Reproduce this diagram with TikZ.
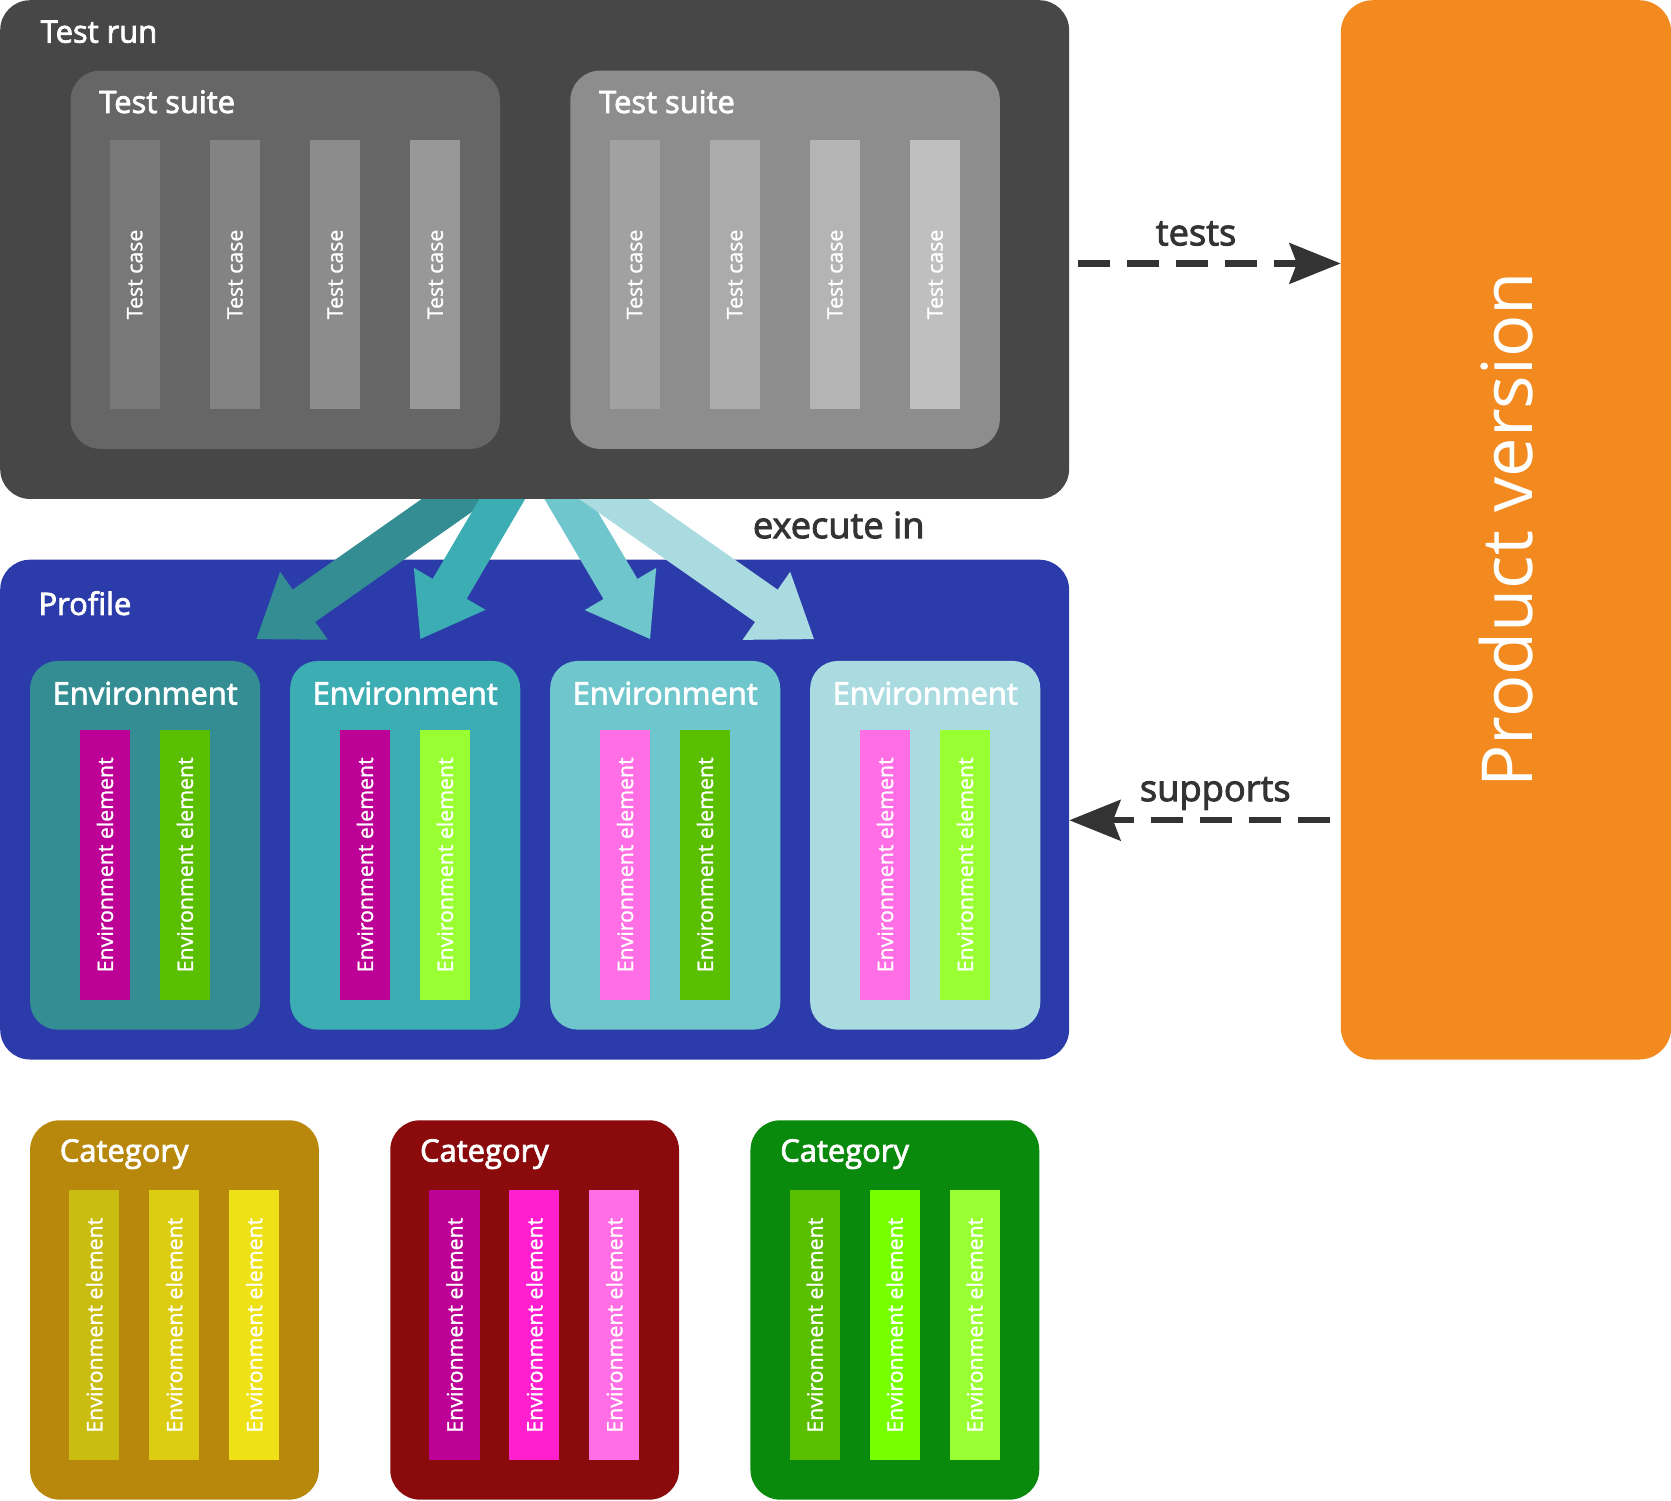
\documentclass[tikz,border=0pt]{standalone}
\usepackage{fontspec}
\setmainfont{Open Sans}
\newfontfamily\boxfam{Open Sans}[FakeBold=2.5]
\newfontfamily\stripfam{Open Sans}[FakeBold=1.2]
\usetikzlibrary{arrows.meta,positioning,calc}

\definecolor{runc}{HTML}{474747}
\definecolor{suitea}{HTML}{666666}
\definecolor{suiteb}{HTML}{8D8D8D}
\definecolor{casea}{HTML}{787878}
\definecolor{caseb}{HTML}{838383}
\definecolor{casec}{HTML}{8C8C8C}
\definecolor{cased}{HTML}{989898}
\definecolor{casee}{HTML}{A1A1A1}
\definecolor{casef}{HTML}{ABABAB}
\definecolor{caseg}{HTML}{B4B4B4}
\definecolor{caseh}{HTML}{BFBFBF}
\definecolor{profc}{HTML}{2B3CAA}
\definecolor{enva}{HTML}{338D93}
\definecolor{envb}{HTML}{3DADB4}
\definecolor{envc}{HTML}{6FC7CD}
\definecolor{envd}{HTML}{A9DBE0}
\definecolor{mag}{HTML}{BD0096}
\definecolor{hot}{HTML}{FF1FCF}
\definecolor{pink}{HTML}{FF6EE4}
\definecolor{grn}{HTML}{5ABF00}
\definecolor{brt}{HTML}{77FF00}
\definecolor{lime}{HTML}{99FF33}
\definecolor{yela}{HTML}{C9BD11}
\definecolor{yelb}{HTML}{DDCD12}
\definecolor{yelc}{HTML}{EEE217}
\definecolor{cata}{HTML}{B8880C}
\definecolor{catb}{HTML}{8B0A0C}
\definecolor{catc}{HTML}{0A8A0C}
\definecolor{pvc}{HTML}{F28A20}
\definecolor{darkc}{HTML}{333333}

\pgfdeclarelayer{under}
\pgfsetlayers{under,main}

\begin{document}
\begin{tikzpicture}[x=1pt,y=-1pt,
  box/.style 2 args={draw=none,rounded corners=28pt,inner sep=0pt,anchor=north west,
    minimum width=#1pt,minimum height=#2pt},
  strip/.style={rotate=90,inner sep=0pt,minimum width=253pt,minimum height=47pt,
    text=white,font=\stripfam\fontsize{20}{20}\selectfont},
  head/.style={text=white,inner sep=0pt,anchor=base west,font=\boxfam\fontsize{29}{30}\selectfont},
  linklbl/.style={text=darkc,inner sep=0pt,anchor=base,font=\boxfam\fontsize{34}{36}\selectfont},
  fanarrow/.style={line width=37pt,-{Triangle[length=55pt,width=74pt]}},
  link/.style={draw=darkc,line width=6pt,dash pattern=on 30pt off 16pt,
    -{Stealth[length=48pt,width=38pt,inset=7pt]}}]
  \useasboundingbox (0,0) rectangle (1568,1408);

  % test run
  \node[box={1003}{468}, fill=runc] (run) at (0,0) {};
  \node[head] (runlbl) at (38,40) {Test run};
  \node[box={403}{355}, fill=suitea] (suite1) at (66,66) {};
  \node[box={403}{355}, fill=suiteb] (suite2) at (535,66) {};
  \node[head] (suite1lbl) at ($(suite1.north west)+(27,40)$) {Test suite};
  \node[head] (suite2lbl) at ($(suite2.north west)+(27,40)$) {Test suite};
  \foreach \c [count=\i from 0] in {casea,caseb,casec,cased}
    \node[strip, fill=\c] (case1-\i) at ($(suite1.north west)+(60.5+94*\i,191.5)$) {Test case};
  \foreach \c [count=\i from 0] in {casee,casef,caseg,caseh}
    \node[strip, fill=\c] (case2-\i) at ($(suite2.north west)+(60.5+94*\i,191.5)$) {Test case};

  % profile
  \begin{pgfonlayer}{under}
    \node[box={1003}{469}, fill=profc] (profile) at (0,525) {};
  \end{pgfonlayer}
  \node[head] (proflbl) at (36,577) {Profile};
  \foreach \i/\c/\a/\b in {0/enva/mag/grn, 1/envb/mag/lime, 2/envc/pink/grn, 3/envd/pink/lime} {
    \node[box={216}{346}, fill=\c, rounded corners=26pt] (env\i) at (28+244*\i,620) {};
    \node[head, anchor=base] (env\i lbl) at ($(env\i.north)+(0,41)$) {Environment};
    \node[strip, fill=\a] (env\i a) at ($(env\i.north west)+(70.5,191.5)$) {Environment element};
    \node[strip, fill=\b] (env\i b) at ($(env\i.north west)+(145.5,191.5)$) {Environment element};
  }

  % execute in
  \coordinate (fan) at ($(run.south)+(0,-52)$);
  \begin{pgfonlayer}{under}
    \foreach \i/\c/\dx in {0/enva/104, 1/envb/14, 2/envc/-14, 3/envd/-104}
      \draw[fanarrow, draw=\c] (fan) -- ($(env\i.north)+(\dx,-20)$);
  \end{pgfonlayer}
  \node[linklbl] (execlbl) at (787,505) {execute in};

  % product version
  \node[box={310}{994}, fill=pvc, rounded corners=30pt] (pv) at (1258,0) {};
  \node[rotate=90, text=white, inner sep=0pt, font=\fontsize{66}{70}\selectfont] (pvlbl)
    at (pv.center) {Product version};
  \draw[link] ($(run.east)+(8,13)$) -- node[linklbl, pos=0.45, yshift=17pt] {tests}
    ($(run.east -| pv.west)+(0,13)$);
  \draw[link] ($(pv.west |- profile.east)+(-10,10)$) -- node[linklbl, pos=0.44, yshift=18pt] {supports}
    ($(profile.east)+(0,10)$);

  % categories
  \foreach \i/\c/\a/\b/\d in {0/cata/yela/yelb/yelc, 1/catb/mag/hot/pink, 2/catc/grn/brt/lime} {
    \node[box={271}{356}, fill=\c] (cat\i) at (28+338*\i,1051) {};
    \node[head] (cat\i lbl) at ($(cat\i.north west)+(28,39)$) {Category};
    \node[strip, fill=\a] (cat\i a) at ($(cat\i.north west)+(60.5,192.5)$) {Environment element};
    \node[strip, fill=\b] (cat\i b) at ($(cat\i.north west)+(135.5,192.5)$) {Environment element};
    \node[strip, fill=\d] (cat\i c) at ($(cat\i.north west)+(210.5,192.5)$) {Environment element};
  }
\end{tikzpicture}
\end{document}
